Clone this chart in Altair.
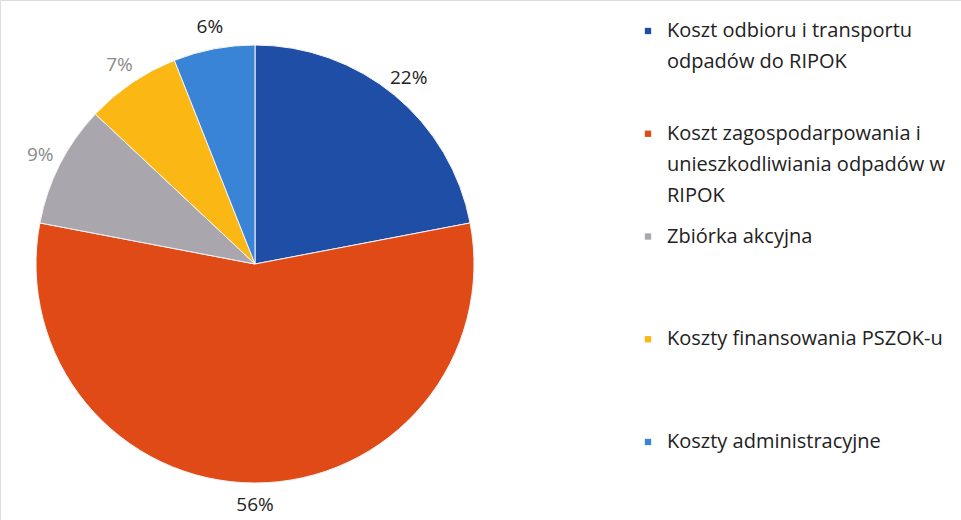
import altair as alt
import pandas as pd

categories = [
    "Koszt odbioru i transportu\nodpadów do RIPOK",
    "Koszt zagospodarpowania i\nunieszkodliwiania odpadów w\nRIPOK",
    "Zbiórka akcyjna",
    "Koszty finansowania PSZOK-u",
    "Koszty administracyjne",
]
values = [22, 56, 9, 7, 6]
labels = ["22%", "56%", "9%", "7%", "6%"]
colors = ["#1f4ea6", "#e04a17", "#a9a7ad", "#fbb714", "#3a84d8"]
gray_labels = ["9%", "7%"]

df = pd.DataFrame({"cat": categories, "value": values, "label": labels, "idx": list(range(5))})

CX, CY, R = 255, 264, 219

color_scale = alt.Scale(domain=categories, range=colors)

base = alt.Chart(df).encode(
    theta=alt.Theta("value:Q", stack=True),
    order=alt.Order("idx:Q"),
)

shadow = alt.Chart(pd.DataFrame({"v": [1]})).mark_arc(
    radius=R, color="#5a2a10", opacity=0.55
).encode(theta=alt.Theta("v:Q"), x=alt.value(CX), y=alt.value(CY + 3))

pie = base.mark_arc(radius=R, stroke="#f4f4f4", strokeWidth=1).encode(
    color=alt.Color("cat:N", scale=color_scale, legend=None),
    x=alt.value(CX), y=alt.value(CY),
)

text = base.mark_text(radius=241, fontSize=19, font="Open Sans").encode(
    text="label:N",
    color=alt.condition(
        alt.FieldOneOfPredicate(field="label", oneOf=gray_labels),
        alt.value("#8a8a8a"), alt.value("#222222")
    ),
    x=alt.value(CX), y=alt.value(CY),
)

leg_y = alt.Scale(domain=[0, 4], range=[31, 442])
leg = alt.Chart(df)
leg_sq = leg.mark_square(size=40, opacity=1).encode(
    x=alt.value(648),
    y=alt.Y("idx:Q", scale=leg_y, axis=None),
    color=alt.Color("cat:N", scale=color_scale, legend=None),
)
leg_tx = leg.mark_text(
    align="left", baseline="middle", fontSize=20, font="Open Sans",
    lineBreak="\n", lineHeight=31, color="#222222",
).encode(
    x=alt.value(667),
    y=alt.Y("idx:Q", scale=leg_y, axis=None),
    text="cat:N",
)

chart = alt.layer(shadow, pie, text, leg_sq, leg_tx).properties(
    width=961, height=520, padding=0,
    autosize=alt.AutoSizeParams(type="none"),
).configure_view(stroke=None).configure(background="white")

chart.save("out.html", embed_options={"renderer": "svg", "actions": False})
